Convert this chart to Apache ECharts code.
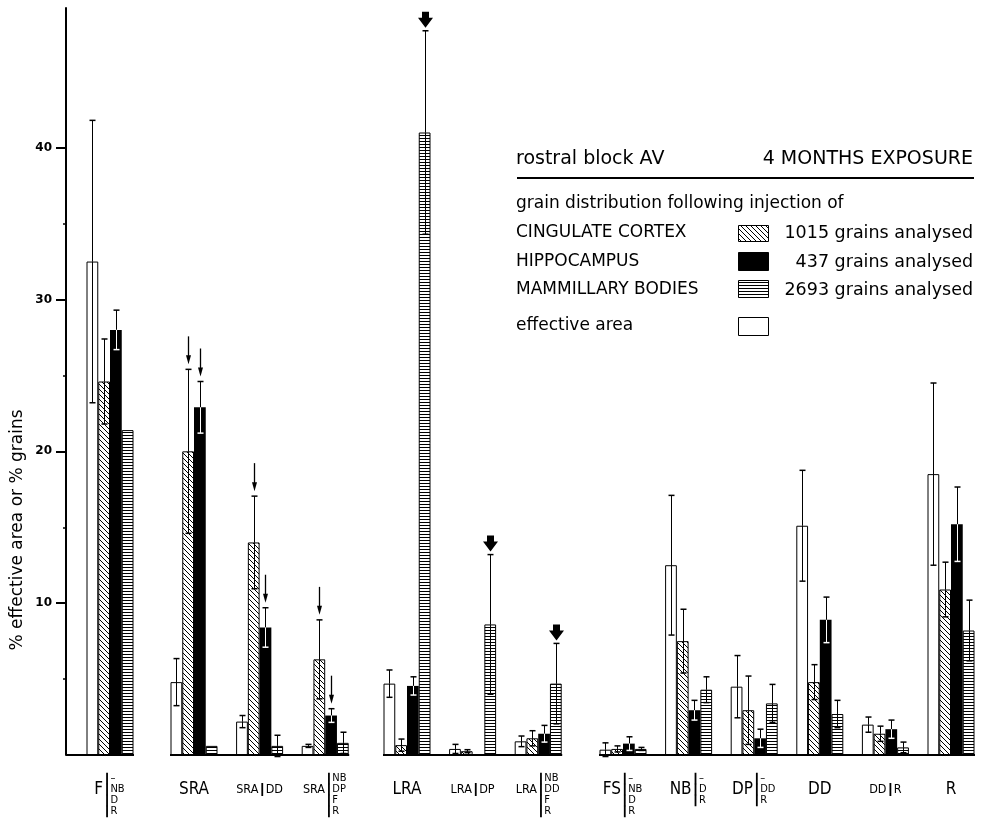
<!DOCTYPE html>
<html><head><meta charset="utf-8">
<script src="https://cdn.jsdelivr.net/npm/echarts@6/dist/echarts.min.js"></script>
<style>html,body{margin:0;padding:0;background:#fff;}#chart{width:984px;height:822px;}</style>
</head><body><div id="chart"></div>
<script>
// ---------- data ----------
const categories = ['F','SRA','SRA|DD','SRA|NB','LRA','LRA|DP','LRA|NB','FS','NB','DP','DD','DD|R','R'];
const labelMain  = ['F','SRA','SRA','SRA','LRA','LRA','LRA','FS','NB','DP','DD','DD','R'];
const labelIsBig = [true,true,false,false,true,false,false,true,true,true,true,false,true];
const labelStack = [['–','NB','D','R'],[],['DD'],['NB','DP','F','R'],[],['DP'],['NB','DD','F','R'],['–','NB','D','R'],['–','D','R'],['–','DD','R'],[],['R'],[]];

const seriesNames = ['effective area','CINGULATE CORTEX','HIPPOCAMPUS','MAMMILLARY BODIES'];
const effectiveArea   = [32.5, 4.8, 2.2, 0.6, 4.7, 0.4, 0.9, 0.35, 12.5, 4.5, 15.1, 2.0, 18.5];
const effectiveAreaSD = [9.3, 1.55, 0.4, 0.1, 0.9, 0.3, 0.35, 0.45, 4.6, 2.05, 3.65, 0.5, 6.0];
const cingulate       = [24.6, 20.0, 14.0, 6.3, 0.65, 0.25, 1.1, 0.4, 7.5, 2.95, 4.8, 1.4, 10.9];
const cingulateSD     = [2.8, 5.4, 3.05, 2.6, 0.4, 0.1, 0.5, 0.2, 2.1, 2.25, 1.15, 0.5, 1.8];
const hippocampus     = [28.0, 22.9, 8.4, 2.6, 4.55, 0, 1.4, 0.75, 2.95, 1.1, 8.9, 1.7, 15.2];
const hippocampusSD   = [1.3, 1.7, 1.3, 0.45, 0.6, 0, 0.55, 0.45, 0.65, 0.6, 1.5, 0.6, 2.45];
const mammillary      = [21.4, 0.6, 0.6, 0.8, 41.0, 8.6, 4.7, 0.4, 4.3, 3.4, 2.7, 0.5, 8.2];
const mammillarySD    = [0, 0, 0.7, 0.7, 6.7, 4.6, 2.65, 0.1, 0.85, 1.25, 0.9, 0.35, 2.0];
// arrow markers: 0 none, 1 thin arrow, 2 bold arrow
const effectiveArrow   = [0,0,0,0,0,0,0,0,0,0,0,0,0];
const cingulateArrow   = [0,1,1,1,0,0,0,0,0,0,0,0,0];
const hippocampusArrow = [0,1,1,1,0,0,0,0,0,0,0,0,0];
const mammillaryArrow  = [0,0,0,0,2,2,2,0,0,0,0,0,0];

const yTickLabels = [10, 20, 30, 40];
const yMinorTicks = [5, 15, 25, 35];
const legendCounts = ['1015 grains analysed', '437 grains analysed', '2693 grains analysed'];

// ---------- layout ----------
const blockSizes = [1, 3, 3, 6];
const blockFirstCenter = [110, 194, 407, 623];
const PITCH = 65.6, BW = 11.75, TOP = 8, BOTTOM = 67, YMAX = 49.2;
const FONT_C = '"DejaVu Sans Condensed", "DejaVu Sans", sans-serif';
const FONT = '"DejaVu Sans", sans-serif';
const BIG = 17, MID = 12.5, SM = 11, LH = 11;

function makeHatch() {
  const c = document.createElement('canvas'); c.width = 5; c.height = 5;
  const g = c.getContext('2d'); g.fillStyle = '#fff'; g.fillRect(0,0,5,5);
  g.strokeStyle = '#000'; g.lineWidth = 1; g.beginPath();
  [-5,0,5].forEach(o => { g.moveTo(o,0); g.lineTo(o+5,5); }); g.stroke(); return c;
}
function makeStripes() {
  const c = document.createElement('canvas'); c.width = 4; c.height = 3;
  const g = c.getContext('2d'); g.fillStyle = '#fff'; g.fillRect(0,0,4,3);
  g.fillStyle = '#000'; g.fillRect(0,0,4,1); return c;
}
const hatchPat = {image: makeHatch(), repeat: 'repeat'};
const stripePat = {image: makeStripes(), repeat: 'repeat'};
const barStyles = [
  {color:'#fff', borderColor:'#000', borderWidth:1},
  {color:hatchPat, borderColor:'#000', borderWidth:1},
  {color:'#000', borderColor:'#000', borderWidth:0},
  {color:stripePat, borderColor:'#000', borderWidth:1}
];
const means = [effectiveArea, cingulate, hippocampus, mammillary];
const sds = [effectiveAreaSD, cingulateSD, hippocampusSD, mammillarySD];
const arrows = [effectiveArrow, cingulateArrow, hippocampusArrow, mammillaryArrow];

// ---------- label rich text ----------
const measCtx = document.createElement('canvas').getContext('2d');
function textW(t, size) { measCtx.font = size + 'px ' + FONT_C; return measCtx.measureText(t).width; }
const rich = {
  e:   {fontSize: 10, lineHeight: LH, fontFamily: FONT_C, align: 'left'},
  big: {fontSize: BIG, lineHeight: LH, fontFamily: FONT_C, color: '#000', align: 'left'},
  mid: {fontSize: MID, lineHeight: LH, fontFamily: FONT_C, color: '#000', align: 'left'},
  g1:  {width: 3, lineHeight: LH, fontSize: 10, align: 'left'},
  g2:  {width: 2.5, lineHeight: LH, fontSize: 10, align: 'left'},
  bar: {width: 1.8, height: LH + 0.5, lineHeight: LH, backgroundColor: '#000', fontSize: 10, align: 'left'},
  barM:{width: 1.8, height: 13, lineHeight: LH, backgroundColor: '#000', fontSize: 10, align: 'left'}
};
labelMain.forEach((m, i) => {
  const mainW = textW(m, labelIsBig[i] ? BIG : MID);
  rich['mn' + i] = {width: mainW, lineHeight: LH, fontSize: labelIsBig[i] ? BIG : MID, fontFamily: FONT_C, color: '#000', align: 'left'};
  rich['sp' + i] = {width: mainW, lineHeight: LH, fontSize: 10, align: 'left'};
  const stW = Math.max(0, ...labelStack[i].map(t => textW(t, SM))) + 1;
  rich['sm' + i] = {width: stW, lineHeight: LH, fontSize: SM, fontFamily: FONT_C, color: '#000', align: 'left'};
});
function buildLabel(value) {
  const i = categories.indexOf(value);
  const main = labelMain[i], st = labelStack[i];
  const ms = labelIsBig[i] ? 'big' : 'mid';
  if (st.length === 0) return '{e| }\n{' + ms + '|' + main + '}';
  if (st.length === 1) return '{e| }\n{' + ms + '|' + main + '}{g1| }{barM| }{g2| }{mid|' + st[0] + '}';
  return st.map((t, k) => (k === 1 ? '{mn' + i + '|' + main + '}' : '{sp' + i + '| }') +
    '{g1| }{bar| }{g2| }{sm' + i + '|' + t + '}').join('\n');
}

// ---------- build option ----------
const grids = [], xAxes = [], yAxes = [], series = [];
let start = 0;
blockSizes.forEach((n, b) => {
  const c0 = blockFirstCenter[b];
  let left = c0 - PITCH / 2, width = n * PITCH;
  if (b === 0) { left = 66; width = (c0 - 66) * 2; }
  grids.push({left: left, width: width, top: TOP, bottom: BOTTOM});
  const cats = categories.slice(start, start + n);
  xAxes.push({type: 'category', gridIndex: b, data: cats, boundaryGap: true,
    axisLine: {show: false}, axisTick: {show: false},
    axisLabel: {interval: 0, margin: 18, formatter: buildLabel, rich: rich, color: '#000'}});
  yAxes.push({type: 'value', gridIndex: b, min: 0, max: YMAX, interval: 10, show: b === 0,
    splitLine: {show: false},
    axisLine: {show: true, lineStyle: {color: '#000', width: 2}},
    axisTick: {show: true, length: 10, lineStyle: {color: '#000', width: 2}, customValues: yTickLabels},
    axisLabel: {color: '#000', fontSize: 12, fontWeight: 'bold', fontFamily: FONT, margin: 14, customValues: yTickLabels}});
  for (let s = 0; s < 4; s++) {
    series.push({type: 'bar', name: seriesNames[s], xAxisIndex: b, yAxisIndex: b,
      barWidth: BW, barGap: '0%', itemStyle: barStyles[s], silent: true,
      data: means[s].slice(start, start + n)});
  }
  const errData = [];
  for (let k = 0; k < n; k++) for (let s = 0; s < 4; s++)
    errData.push([k, s, means[s][start + k], sds[s][start + k], arrows[s][start + k]]);
  series.push({type: 'custom', xAxisIndex: b, yAxisIndex: b, z: 5, silent: true,
    encode: {x: 0, y: 2}, data: errData,
    renderItem: function (params, api) {
      const k = api.value(0), s = api.value(1), m = api.value(2), sd = api.value(3), ar = api.value(4);
      const base = api.coord([k, m]);
      const x = Math.round(base[0] + (s - 1.5) * BW) + 0.5;
      const yBar = base[1];
      const yTop = api.coord([k, m + sd])[1];
      const yBot = api.coord([k, m - sd])[1];
      const ch = [];
      const inner = s === 2 ? '#fff' : '#000';
      if (sd > 0) {
        ch.push({type: 'line', shape: {x1: x, y1: yTop, x2: x, y2: yBar}, style: {stroke: '#000', lineWidth: 1}});
        ch.push({type: 'line', shape: {x1: x, y1: yBar, x2: x, y2: yBot}, style: {stroke: inner, lineWidth: 1}});
        ch.push({type: 'line', shape: {x1: x - 3, y1: yTop, x2: x + 3, y2: yTop}, style: {stroke: '#000', lineWidth: 1.5}});
        ch.push({type: 'line', shape: {x1: x - 3, y1: yBot, x2: x + 3, y2: yBot}, style: {stroke: inner, lineWidth: 1.5}});
      }
      if (ar === 1) {
        ch.push({type: 'line', shape: {x1: x, y1: yTop - 33, x2: x, y2: yTop - 12}, style: {stroke: '#000', lineWidth: 1.3}});
        ch.push({type: 'polygon', shape: {points: [[x - 2.5, yTop - 14], [x + 2.5, yTop - 14], [x, yTop - 5]]}, style: {fill: '#000'}});
      } else if (ar === 2) {
        ch.push({type: 'polygon', shape: {points: [[x - 3.5, yTop - 19], [x + 3.5, yTop - 19], [x + 3.5, yTop - 13],
          [x + 7.5, yTop - 13], [x, yTop - 3], [x - 7.5, yTop - 13], [x - 3.5, yTop - 13]]}, style: {fill: '#000'}});
      }
      return {type: 'group', children: ch};
    }});
  series.push({type: 'custom', xAxisIndex: b, yAxisIndex: b, z: 6, silent: true,
    encode: {x: 0, y: 1}, data: [[0, 0, n - 1, b]],
    renderItem: function (params, api) {
      const p0 = api.coord([api.value(0), 0]);
      const p1 = api.coord([api.value(2), 0]);
      const x0 = api.value(3) === 0 ? params.coordSys.x : p0[0] - 2 * BW - 0.5;
      const x1 = p1[0] + 2 * BW + 0.5;
      return {type: 'line', shape: {x1: x0, y1: p0[1], x2: x1, y2: p0[1]}, style: {stroke: '#000', lineWidth: 2}};
    }});
  start += n;
});
// minor ticks on the main y axis
yAxes.push({type: 'value', gridIndex: 0, position: 'left', min: 0, max: YMAX, interval: 10,
  axisLine: {show: false}, splitLine: {show: false}, axisLabel: {show: false},
  axisTick: {show: true, length: 3, lineStyle: {color: '#000', width: 1.5}, customValues: yMinorTicks}});

const txt = (t, x, y, size, align) => ({type: 'text', x: x, y: y, silent: true,
  style: {text: t, fill: '#000', fontSize: size, fontFamily: FONT, align: align || 'left', verticalAlign: 'middle',
          textAlign: align || 'left', textVerticalAlign: 'middle'}});
const graphic = [
  {type: 'text', x: 18, y: 530, rotation: Math.PI / 2, silent: true,
   style: {text: '% effective area or % grains', fill: '#000', fontSize: 17, fontFamily: FONT,
           align: 'center', verticalAlign: 'middle', textAlign: 'center', textVerticalAlign: 'middle'}},
  txt('rostral block AV', 516, 159, 19),
  txt('4 MONTHS EXPOSURE', 973, 159, 19, 'right'),
  {type: 'line', silent: true, shape: {x1: 517, y1: 178, x2: 974, y2: 178}, style: {stroke: '#000', lineWidth: 2}},
  txt('grain distribution following injection of', 516, 204, 17),
  txt(seriesNames[1], 516, 233, 17),
  txt(seriesNames[2], 516, 262, 17),
  txt(seriesNames[3], 516, 290, 17),
  txt(seriesNames[0], 516, 326, 17),
  {type: 'rect', silent: true, shape: {x: 738.5, y: 225.5, width: 30, height: 16}, style: {fill: hatchPat, stroke: '#000', lineWidth: 1}},
  {type: 'rect', silent: true, shape: {x: 738.5, y: 252.5, width: 30, height: 18}, style: {fill: '#000', stroke: '#000', lineWidth: 1}},
  {type: 'rect', silent: true, shape: {x: 738.5, y: 280.5, width: 30, height: 17}, style: {fill: stripePat, stroke: '#000', lineWidth: 1}},
  {type: 'rect', silent: true, shape: {x: 738.5, y: 317.5, width: 30, height: 18}, style: {fill: '#fff', stroke: '#000', lineWidth: 1}},
  txt(legendCounts[0], 973, 233, 17.5, 'right'),
  txt(legendCounts[1], 973, 262, 17.5, 'right'),
  txt(legendCounts[2], 973, 290, 17.5, 'right')
];

const chart = echarts.init(document.getElementById('chart'), null, {renderer: 'canvas'});
chart.setOption({
  animation: false, backgroundColor: '#fff',
  grid: grids, xAxis: xAxes, yAxis: yAxes, series: series, graphic: graphic
});
</script></body></html>
